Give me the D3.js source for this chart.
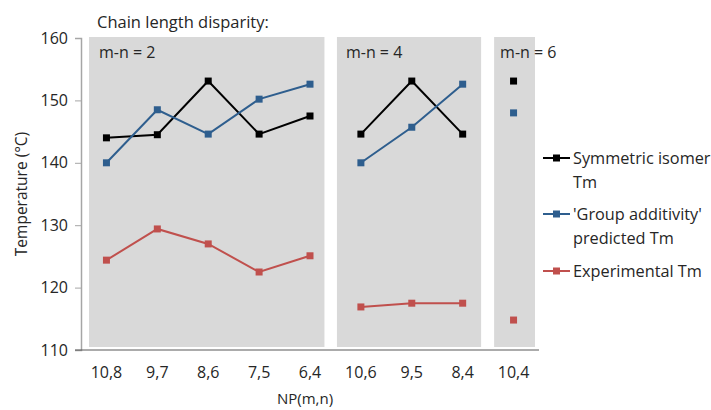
<!DOCTYPE html>
<html><head><meta charset="utf-8">
<script src="https://cdn.jsdelivr.net/npm/d3@7/dist/d3.min.js"></script>
<style>body{margin:0;background:#fff}svg{display:block}text{font-family:"Open Sans",sans-serif;fill:#262626}</style>
</head><body><svg id="c" width="711" height="410"></svg>
<script>
const categories = ["10,8","9,7","8,6","7,5","6,4","10,6","9,5","8,4","10,4"];
const groupOf = [0,0,0,0,0,1,1,1,2];
const groupLabels = ["m-n = 2","m-n = 4","m-n = 6"];
const symmetricTm = [144.0,144.5,153.1,144.6,147.5,144.6,153.1,144.6,153.1];
const groupAdditivityTm = [140.0,148.5,144.6,150.2,152.6,140.0,145.7,152.6,148.0];
const experimentalTm = [124.4,129.4,127.0,122.5,125.1,116.9,117.5,117.5,114.8];
const yTicks = [110,120,130,140,150,160];
const seriesNames = [["Symmetric isomer","Tm"],["'Group additivity'","predicted Tm"],["Experimental Tm"]];

const colors = ["#000000","#2E5E8E","#C0504D"];
const series = [symmetricTm, groupAdditivityTm, experimentalTm];

const svg = d3.select("#c");
const L = 81, R = 539, T = 38, B = 350;
const x = d3.scaleBand().domain(categories).range([L,R]).padding(0);
const y = d3.scaleLinear().domain([110,160]).range([B,T]);
const cx = c => x(c) + x.bandwidth()/2;

// panels
const panelPad = [[8,-11],[1.5,-7],[6,-4]];
groupLabels.forEach((lab,g)=>{
  const idx = categories.map((c,i)=>i).filter(i=>groupOf[i]===g);
  const x0 = x(categories[idx[0]]) + panelPad[g][0];
  const x1 = x(categories[idx[idx.length-1]]) + x.bandwidth() + panelPad[g][1];
  svg.append("rect").attr("x",x0).attr("y",y(160)-1).attr("width",x1-x0).attr("height",y(110)-3-(y(160)-1)).attr("fill","#D9D9D9");
  svg.append("text").attr("x",x0+ (g===0?10:g===1?9:6)).attr("y",58).attr("font-size",16).text(lab);
});

// y axis
const ya = svg.append("g").attr("transform",`translate(${L},0)`).call(d3.axisLeft(y).tickValues(yTicks).tickSize(6).tickPadding(7));
ya.select(".domain").attr("stroke","#A6A6A6").attr("stroke-width",1.5);
ya.selectAll(".tick line").attr("stroke","#A6A6A6");
ya.selectAll(".tick text").attr("font-size",16).attr("fill","#262626").attr("font-family","Open Sans");

// x axis
const xa = svg.append("g").attr("transform",`translate(0,${B})`).call(d3.axisBottom(x).tickSize(0).tickPadding(17));
xa.select(".domain").attr("stroke","#595959").attr("d",`M${L-6},0H${R}`);
xa.selectAll(".tick text").attr("font-size",16).attr("fill","#262626").attr("font-family","Open Sans");

// lines
series.forEach((vals,s)=>{
  const line = d3.line().x(d=>cx(categories[d])).y(d=>y(vals[d]));
  [0,1,2].forEach(g=>{
    const idx = categories.map((c,i)=>i).filter(i=>groupOf[i]===g);
    if(idx.length>1) svg.append("path").attr("d",line(idx)).attr("fill","none").attr("stroke",colors[s]).attr("stroke-width",2);
  });
  svg.selectAll(null).data(categories).enter().append("rect")
    .attr("x",c=>cx(c)-3.5).attr("y",(c,i)=>y(vals[i])-3.5).attr("width",7).attr("height",7).attr("fill",colors[s]);
});

// titles
svg.append("text").attr("x",97).attr("y",28).attr("font-size",16.5).text("Chain length disparity:");
svg.append("text").attr("transform","translate(27,194) rotate(-90)").attr("text-anchor","middle").attr("font-size",15.5).text("Temperature (°C)");
svg.append("text").attr("x",305).attr("y",404).attr("text-anchor","middle").attr("font-size",15).text("NP(m,n)");

// legend
const legY = [158,214,271];
seriesNames.forEach((nm,s)=>{
  const ly = legY[s];
  svg.append("line").attr("x1",543).attr("x2",570).attr("y1",ly).attr("y2",ly).attr("stroke",colors[s]).attr("stroke-width",2);
  svg.append("rect").attr("x",553).attr("y",ly-3.5).attr("width",7).attr("height",7).attr("fill",colors[s]);
  nm.forEach((t,k)=>svg.append("text").attr("x",573).attr("y",ly+6+k*24).attr("font-size",16.3).text(t));
});
</script></body></html>
